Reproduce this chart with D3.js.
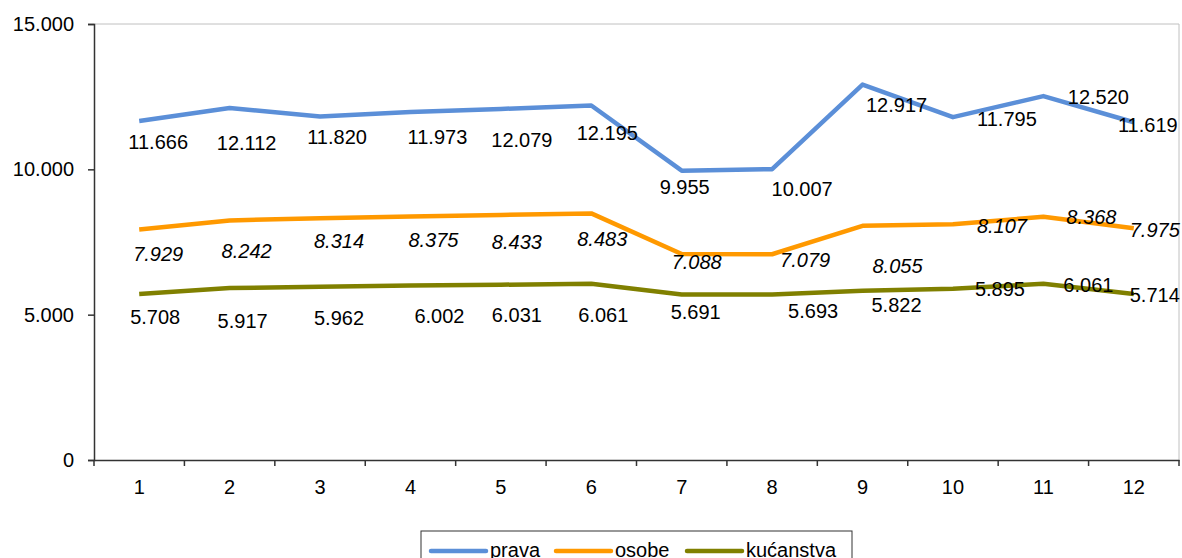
<!DOCTYPE html>
<html><head><meta charset="utf-8">
<script src="https://cdn.jsdelivr.net/npm/d3@7"></script>
<style>
body{margin:0;background:#fff;}
svg{display:block;font-family:"Liberation Sans",Arial,sans-serif;}
</style></head>
<body><svg id="c" width="1182" height="558"></svg>
<script>
const categories = ["1","2","3","4","5","6","7","8","9","10","11","12"];
const prava = [11666,12112,11820,11973,12079,12195,9955,10007,12917,11795,12520,11619];
const osobe = [7929,8242,8314,8375,8433,8483,7088,7079,8055,8107,8368,7975];
const kucanstva = [5708,5917,5962,6002,6031,6061,5691,5693,5822,5895,6061,5714];
const seriesNames = ["prava","osobe","kućanstva"];
const yTicks = [0,5000,10000,15000];

// label placement (layout only)
const labelDx = [
  [19,17,17,27,21,16,3,30,34,54,55,14],
  [19,17,19,23,16,11,15,33,35,49,48,21],
  [16,13,19,29,16,12,14,41,34,47,45,21]
];
const labelDy = [
  [21,35,21,25,31,27,16,20,20,2,1,3],
  [24,31,23,23,27,26,8,6,40,2,0,2],
  [23,33,31,30,30,31,17,16,14,0,1,1]
];

const colors = ["#5B8FD8","#FF9900","#808000"];
const italics = [false,true,false];
const fmt = v => d3.format(",")(v).replace(/,/g,".");

const svg = d3.select("#c");
const L=94, R=1179, T=24, B=460;
const x = d3.scaleBand().domain(categories).range([L,R]);
const y = d3.scaleLinear().domain([0,15000]).range([B,T]);

// plot border (top/right)
svg.append("path").attr("d",`M${L},${T}H${R}V${B}`).attr("fill","none").attr("stroke","#c0c0c0").attr("stroke-width",1);

// y axis
const ya = svg.append("g").attr("transform",`translate(${L},0)`)
  .call(d3.axisLeft(y).tickValues(yTicks).tickSize(6).tickPadding(14).tickFormat(fmt));
ya.select(".domain").attr("stroke","#333").attr("stroke-width",1.5);
ya.selectAll(".tick line").attr("stroke","#333").attr("stroke-width",1.5);
ya.selectAll("text").attr("font-size",20).attr("fill","#000").attr("font-family","Liberation Sans, Arial, sans-serif");

// x axis
const xa = svg.append("g").attr("transform",`translate(0,${B})`)
  .call(d3.axisBottom(x).tickSize(0).tickPadding(20));
xa.select(".domain").attr("stroke","#333").attr("stroke-width",1.5);
xa.selectAll("text").attr("font-size",20).attr("fill","#000").attr("font-family","Liberation Sans, Arial, sans-serif");
const bounds = d3.range(categories.length+1).map(i=>L+i*x.step());
xa.selectAll(".bt").data(bounds).enter().append("line")
  .attr("x1",d=>d).attr("x2",d=>d).attr("y1",0).attr("y2",6)
  .attr("stroke","#333").attr("stroke-width",1.5);

const data = [prava,osobe,kucanstva];
const line = d3.line().x((d,i)=>x(categories[i])+x.bandwidth()/2).y(d=>y(d));

data.forEach((s,k)=>{
  svg.append("path").datum(s).attr("d",line).attr("fill","none")
    .attr("stroke",colors[k]).attr("stroke-width",4.5).attr("stroke-linejoin","round");
});
data.forEach((s,k)=>{
  svg.append("g").selectAll("text").data(s).enter().append("text")
    .attr("x",(d,i)=>x(categories[i])+x.bandwidth()/2+labelDx[k][i])
    .attr("y",(d,i)=>y(d)+labelDy[k][i])
    .attr("text-anchor","middle").attr("dominant-baseline","central")
    .attr("font-size",20).attr("font-style",italics[k]?"italic":"normal")
    .attr("fill","#000").text(d=>fmt(d));
});

// legend
const lg = svg.append("g");
lg.append("rect").attr("x",421).attr("y",531).attr("width",431).attr("height",40)
  .attr("fill","#fff").attr("stroke","#333").attr("stroke-width",1);
const legX = [431,556,687];
seriesNames.forEach((n,k)=>{
  lg.append("line").attr("x1",legX[k]).attr("x2",legX[k]+55).attr("y1",551).attr("y2",551)
    .attr("stroke",colors[k]).attr("stroke-width",4.5).attr("stroke-linecap","round");
  lg.append("text").attr("x",legX[k]+59).attr("y",557).attr("font-size",20).attr("fill","#000").text(n);
});
</script></body></html>
